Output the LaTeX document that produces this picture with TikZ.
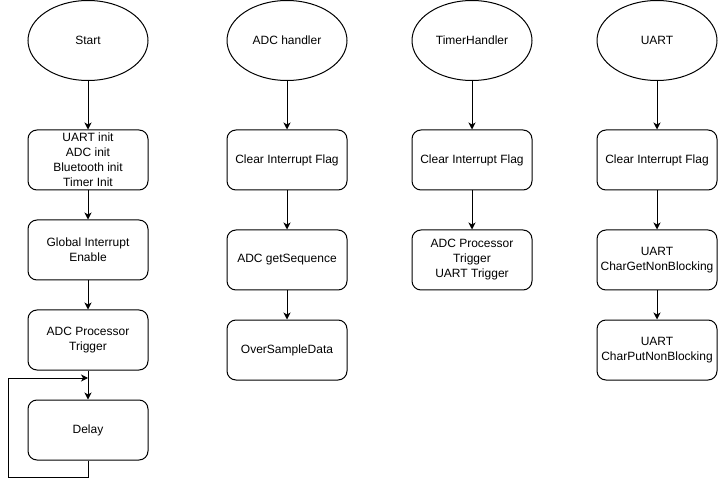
\documentclass[tikz,border=0pt]{standalone}
\usepackage{fontspec}
\setmainfont{Liberation Sans}
\usetikzlibrary{shapes.geometric,arrows.meta}
\begin{document}
\begin{tikzpicture}[x=1pt,y=-1pt,
  every node/.style={font=\fontsize{12}{15}\selectfont, align=center, line width=1pt},
  term/.style={draw, ellipse, minimum width=120pt, minimum height=80pt, inner sep=0pt},
  proc/.style={draw, rounded corners=9pt, minimum width=120pt, minimum height=60pt, inner sep=0pt},
  flow/.style={line width=1pt, -{Stealth[length=7pt,width=7pt,inset=2pt]}}
]
\useasboundingbox (0,0) rectangle (718,489);
% Column 1
\node[term] (s) at (88,40.5) {Start};
\node[proc] (s1) at (88,160) {UART init\\ADC init\\Bluetooth init\\Timer Init};
\node[proc] (s2) at (88,250) {Global Interrupt\\Enable};
\node[proc] (s3) at (88,340) {ADC Processor\\Trigger};
\node[proc] (s4) at (88,430) {Delay};
\coordinate (j) at (88,378);
\coordinate (lb) at (88,477);
\coordinate (ll) at (8,477);
\coordinate (lt) at (8,378);
\draw[flow] (s) -- (s1);
\draw[flow] (s1) -- (s2);
\draw[flow] (s2) -- (s3);
\draw[flow] (s3) -- (s4);
\draw[flow] (s4.south) -- (lb) -- (ll) -- (lt) -- (j);
% Column 2
\node[term] (a) at (287,40.5) {ADC handler};
\node[proc] (a1) at (287,160) {Clear Interrupt Flag};
\node[proc] (a2) at (287,260) {ADC getSequence};
\node[proc] (a3) at (287,350) {OverSampleData};
\draw[flow] (a) -- (a1);
\draw[flow] (a1) -- (a2);
\draw[flow] (a2) -- (a3);
% Column 3
\node[term] (t) at (472,40.5) {TimerHandler};
\node[proc] (t1) at (472,160) {Clear Interrupt Flag};
\node[proc] (t2) at (472,260) {ADC Processor\\Trigger\\UART Trigger};
\draw[flow] (t) -- (t1);
\draw[flow] (t1) -- (t2);
% Column 4
\node[term] (u) at (657,40.5) {UART};
\node[proc] (u1) at (657,160) {Clear Interrupt Flag};
\node[proc] (u2) at (657,260) {UART\\CharGetNonBlocking};
\node[proc] (u3) at (657,350) {UART\\CharPutNonBlocking};
\draw[flow] (u) -- (u1);
\draw[flow] (u1) -- (u2);
\draw[flow] (u2) -- (u3);
\end{tikzpicture}
\end{document}
